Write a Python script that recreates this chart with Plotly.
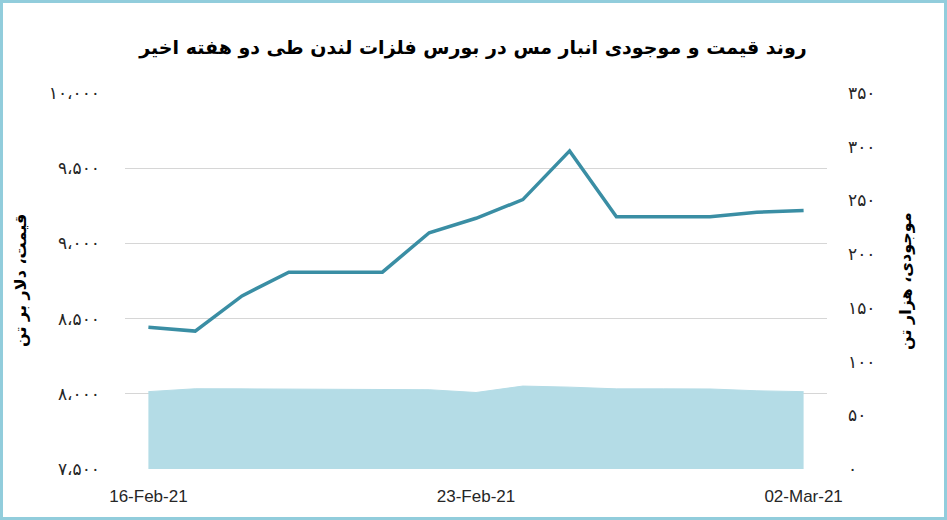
import plotly.graph_objects as go

# daily points, weekends carried forward
dates = ["16-Feb-21", "17-Feb-21", "18-Feb-21", "19-Feb-21", "20-Feb-21",
         "21-Feb-21", "22-Feb-21", "23-Feb-21", "24-Feb-21", "25-Feb-21",
         "26-Feb-21", "27-Feb-21", "28-Feb-21", "01-Mar-21", "02-Mar-21"]
price = [8442, 8417, 8651, 8809, 8809, 8809, 9071, 9167, 9291, 9615,
         9177, 9177, 9177, 9207, 9218]
stock = [72, 74.7, 74.6, 74.5, 74.4, 74.3, 73.8, 71.2, 77.2, 76.2,
         74.6, 74.6, 74.5, 72.8, 72.0]

x_ticks = ["16-Feb-21", "23-Feb-21", "02-Mar-21"]
price_ticks = [7500, 8000, 8500, 9000, 9500, 10000]
price_labels = ["۷،۵۰۰", "۸،۰۰۰", "۸،۵۰۰", "۹،۰۰۰", "۹،۵۰۰", "۱۰،۰۰۰"]
stock_ticks = [0, 50, 100, 150, 200, 250, 300, 350]
stock_labels = ["۰", "۵۰", "۱۰۰", "۱۵۰", "۲۰۰", "۲۵۰", "۳۰۰", "۳۵۰"]

title = "روند قیمت و موجودی انبار مس در بورس فلزات لندن طی دو هفته اخیر"
price_title = "قیمت، دلار بر تن"
stock_title = "موجودی، هزار تن"

W, H = 947, 520
L, R, T, B = 125, 120, 93, 51

fig = go.Figure()
fig.add_trace(go.Scatter(x=dates, y=stock, yaxis="y2", mode="lines",
                         line=dict(color="#b4dce6", width=1),
                         fill="tozeroy", fillcolor="#b4dce6"))
fig.add_trace(go.Scatter(x=dates, y=price, mode="lines",
                         line=dict(color="#3a8ea4", width=3.5)))

fig.update_layout(
    width=W, height=H,
    margin=dict(l=L, r=R, t=T, b=B),
    paper_bgcolor="white", plot_bgcolor="white",
    showlegend=False,
    font=dict(family="DejaVu Sans", color="#262626"),
    title=dict(text="<b>" + title + "</b>", x=(L + 473 - L) / W, xanchor="center",
               y=1 - 47 / H, yanchor="middle",
               font=dict(size=19, color="black", family="DejaVu Sans")),
    xaxis=dict(type="category", range=[-0.5, len(dates) - 0.5],
               tickvals=x_ticks, ticktext=x_ticks,
               showgrid=False, showline=False, ticks="",
               ticklabelstandoff=15,
               tickfont=dict(family="Liberation Sans", size=17, color="#262626")),
    yaxis=dict(range=[7500, 10000], tickvals=price_ticks, ticktext=price_labels,
               showgrid=True, gridcolor="#d6d6d6", gridwidth=1,
               zeroline=False, showline=False, ticks="",
               ticklabelstandoff=24,
               tickfont=dict(size=17, color="#262626")),
    yaxis2=dict(range=[0, 350], tickvals=stock_ticks, ticktext=stock_labels,
                overlaying="y", side="right", showgrid=False,
                zeroline=False, showline=False, ticks="",
                ticklabelstandoff=20,
                tickfont=dict(size=17, color="#262626")),
)

pw, ph = W - L - R, H - T - B
fig.add_annotation(text="<b>" + price_title + "</b>", xref="paper", yref="paper",
                   x=(20 - L) / pw, xanchor="center", y=0.5, textangle=-90,
                   showarrow=False, font=dict(size=16, color="black"))
fig.add_annotation(text="<b>" + stock_title + "</b>", xref="paper", yref="paper",
                   x=(905 - L) / pw, xanchor="center", y=0.5, textangle=-90,
                   showarrow=False, font=dict(size=16, color="black"))

# light blue frame round the whole picture
fig.add_shape(type="rect", xref="paper", yref="paper",
              x0=(1.5 - L) / pw, x1=(W - 1.5 - L) / pw,
              y0=-(B - 1.5) / ph, y1=(H - B - 1.5) / ph,
              line=dict(color="#92cddc", width=3), layer="above")

fig.write_html("out.html", config={"displayModeBar": False},
               post_script="document.body.style.margin='0';")
